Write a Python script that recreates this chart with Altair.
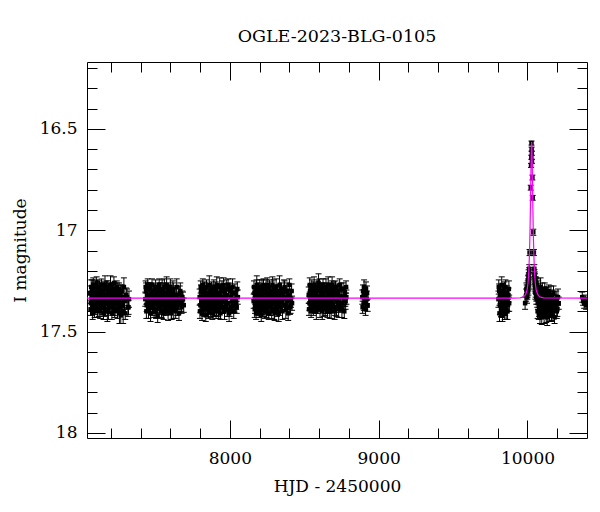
import altair as alt
import pandas as pd

# ---------------- data ----------------
t1 = [7062, 7066, 7071, 7075, 7080, 7085, 7089, 7094, 7098, 7103, 7108, 7112, 7117, 7121, 7126, 7131, 7135,
      7140, 7145, 7149, 7154, 7158, 7163, 7168, 7172, 7177, 7182, 7186, 7191, 7196, 7200, 7205, 7210, 7214,
      7219, 7224, 7228, 7233, 7238, 7243, 7248, 7253, 7258, 7264, 7270, 7276, 7283, 7292, 7303, 7315, 7322,
      7064, 7068, 7073, 7078, 7082, 7087, 7091, 7096, 7101, 7105, 7110, 7115, 7119, 7124, 7128, 7133, 7138,
      7142, 7147, 7151, 7156, 7161, 7165, 7170, 7175, 7179, 7184, 7189, 7193, 7198, 7203, 7207, 7212, 7217,
      7221, 7226, 7231, 7236, 7240, 7245, 7250, 7255, 7261, 7267, 7273, 7280, 7288, 7297, 7309, 7319]
m1 = [17.31, 17.36, 17.33, 17.29, 17.37, 17.34, 17.30, 17.38, 17.33, 17.35, 17.28, 17.36, 17.32, 17.39, 17.34,
      17.30, 17.37, 17.33, 17.35, 17.31, 17.38, 17.29, 17.34, 17.36, 17.32, 17.40, 17.33, 17.30, 17.37, 17.35,
      17.31, 17.34, 17.38, 17.29, 17.36, 17.33, 17.39, 17.32, 17.35, 17.30, 17.37, 17.34, 17.41, 17.31, 17.36,
      17.33, 17.40, 17.35, 17.32, 17.38, 17.34,
      17.39, 17.28, 17.35, 17.41, 17.27, 17.32, 17.40, 17.29, 17.37, 17.26, 17.39, 17.31, 17.36, 17.28, 17.40,
      17.33, 17.27, 17.38, 17.30, 17.41, 17.35, 17.27, 17.39, 17.29, 17.36, 17.28, 17.40, 17.32, 17.38, 17.27,
      17.35, 17.41, 17.30, 17.37, 17.26, 17.39, 17.31, 17.36, 17.28, 17.40, 17.33, 17.29, 17.38, 17.42, 17.30,
      17.37, 17.28, 17.41, 17.33, 17.38]
e1 = [0.035, 0.04, 0.03, 0.045, 0.035, 0.03, 0.04, 0.035, 0.05, 0.03, 0.035, 0.04, 0.03, 0.035, 0.045, 0.04,
      0.03, 0.035, 0.04, 0.03, 0.045, 0.035, 0.03, 0.04, 0.035, 0.05, 0.03, 0.04, 0.035, 0.03, 0.045, 0.035,
      0.04, 0.03, 0.035, 0.04, 0.03, 0.045, 0.035, 0.04, 0.03, 0.035, 0.05, 0.04, 0.035, 0.03, 0.06, 0.04,
      0.035, 0.045, 0.04,
      0.03, 0.035, 0.04, 0.03, 0.035, 0.045, 0.03, 0.04, 0.035, 0.03, 0.04, 0.035, 0.045, 0.03, 0.035, 0.04,
      0.03, 0.035, 0.04, 0.03, 0.035, 0.045, 0.03, 0.04, 0.035, 0.03, 0.04, 0.035, 0.03, 0.045, 0.035, 0.03,
      0.04, 0.035, 0.03, 0.04, 0.035, 0.045, 0.03, 0.035, 0.04, 0.03, 0.035, 0.04, 0.03, 0.035, 0.045, 0.03,
      0.04, 0.035]

t2 = [7432, 7437, 7441, 7446, 7451, 7456, 7460, 7465, 7470, 7475, 7480, 7484, 7489, 7494, 7499, 7504, 7508,
      7513, 7518, 7523, 7528, 7533, 7538, 7543, 7548, 7553, 7558, 7563, 7568, 7573, 7578, 7583, 7588, 7593,
      7598, 7603, 7609, 7614, 7620, 7626, 7632, 7639, 7646, 7654, 7663, 7672, 7681, 7690,
      7434, 7439, 7444, 7448, 7453, 7458, 7463, 7467, 7472, 7477, 7482, 7487, 7491, 7496, 7501, 7506, 7511,
      7515, 7520, 7525, 7530, 7535, 7540, 7545, 7550, 7555, 7560, 7565, 7570, 7575, 7580, 7585, 7590, 7595,
      7600, 7606, 7611, 7617, 7623, 7629, 7636, 7643, 7650, 7658, 7667, 7676, 7685]
m2 = [17.34, 17.30, 17.37, 17.33, 17.36, 17.29, 17.35, 17.32, 17.38, 17.31, 17.34, 17.37, 17.30, 17.35, 17.33,
      17.39, 17.31, 17.36, 17.34, 17.29, 17.37, 17.32, 17.35, 17.40, 17.33, 17.30, 17.36, 17.34, 17.38, 17.31,
      17.35, 17.29, 17.37, 17.33, 17.36, 17.32, 17.39, 17.34, 17.30, 17.37, 17.35, 17.32, 17.38, 17.34, 17.31,
      17.36, 17.33, 17.37,
      17.28, 17.40, 17.32, 17.27, 17.39, 17.35, 17.29, 17.41, 17.33, 17.27, 17.38, 17.30, 17.40, 17.36, 17.28,
      17.39, 17.31, 17.42, 17.34, 17.27, 17.38, 17.30, 17.40, 17.29, 17.37, 17.41, 17.28, 17.35, 17.39, 17.27,
      17.33, 17.40, 17.30, 17.38, 17.28, 17.41, 17.34, 17.29, 17.39, 17.32, 17.40, 17.28, 17.36, 17.41, 17.30,
      17.38, 17.34]
e2 = [0.035, 0.04, 0.03, 0.035, 0.045, 0.03, 0.04, 0.035, 0.03, 0.05, 0.035, 0.04, 0.03, 0.035, 0.04, 0.045,
      0.03, 0.035, 0.04, 0.03, 0.035, 0.05, 0.04, 0.035, 0.03, 0.04, 0.045, 0.035, 0.03, 0.04, 0.035, 0.03,
      0.045, 0.04, 0.035, 0.03, 0.05, 0.035, 0.04, 0.03, 0.035, 0.045, 0.04, 0.03, 0.035, 0.04, 0.03, 0.035,
      0.03, 0.035, 0.04, 0.03, 0.045, 0.035, 0.03, 0.04, 0.035, 0.03, 0.04, 0.035, 0.03, 0.045, 0.035, 0.04,
      0.03, 0.035, 0.04, 0.03, 0.035, 0.04, 0.03, 0.045, 0.035, 0.03, 0.04, 0.035, 0.03, 0.04, 0.035, 0.045,
      0.03, 0.035, 0.04, 0.03, 0.035, 0.04, 0.045, 0.03, 0.035, 0.04, 0.03, 0.035, 0.04, 0.03, 0.035, 0.04]

t3 = [7797, 7802, 7806, 7811, 7816, 7821, 7826, 7830, 7835, 7840, 7845, 7850, 7855, 7860, 7865, 7870, 7875,
      7880, 7885, 7890, 7895, 7900, 7905, 7910, 7915, 7920, 7925, 7930, 7935, 7940, 7945, 7950, 7956, 7961,
      7967, 7973, 7979, 7985, 7992, 7999, 8006, 8014, 8022, 8030, 8038, 8046, 8053,
      7799, 7804, 7809, 7813, 7818, 7823, 7828, 7833, 7838, 7843, 7848, 7852, 7857, 7862, 7867, 7872, 7877,
      7882, 7887, 7892, 7897, 7902, 7907, 7912, 7917, 7922, 7927, 7932, 7937, 7942, 7947, 7953, 7958, 7964,
      7970, 7976, 7982, 7988, 7995, 8002, 8010, 8018, 8026, 8034, 8042, 8050]
m3 = [17.33, 17.37, 17.30, 17.35, 17.32, 17.38, 17.34, 17.29, 17.36, 17.33, 17.31, 17.39, 17.35, 17.32, 17.37,
      17.30, 17.34, 17.36, 17.31, 17.38, 17.33, 17.35, 17.29, 17.37, 17.34, 17.32, 17.40, 17.35, 17.31, 17.36,
      17.33, 17.38, 17.30, 17.35, 17.34, 17.37, 17.32, 17.36, 17.29, 17.39, 17.33, 17.35, 17.31, 17.37, 17.34,
      17.38, 17.33,
      17.40, 17.28, 17.36, 17.41, 17.27, 17.33, 17.39, 17.30, 17.42, 17.28, 17.37, 17.31, 17.40, 17.27, 17.35,
      17.39, 17.29, 17.41, 17.33, 17.28, 17.38, 17.30, 17.40, 17.27, 17.36, 17.39, 17.31, 17.28, 17.41, 17.34,
      17.29, 17.38, 17.27, 17.40, 17.32, 17.29, 17.39, 17.27, 17.41, 17.30, 17.38, 17.28, 17.40, 17.31, 17.36,
      17.29]
e3 = [0.04, 0.035, 0.03, 0.045, 0.035, 0.04, 0.03, 0.035, 0.05, 0.04, 0.03, 0.035, 0.04, 0.03, 0.045, 0.035,
      0.04, 0.03, 0.035, 0.045, 0.03, 0.04, 0.035, 0.05, 0.03, 0.04, 0.035, 0.03, 0.045, 0.035, 0.04, 0.03,
      0.035, 0.04, 0.045, 0.03, 0.035, 0.04, 0.03, 0.035, 0.045, 0.04, 0.03, 0.035, 0.04, 0.03, 0.035,
      0.035, 0.03, 0.04, 0.035, 0.03, 0.045, 0.035, 0.04, 0.03, 0.035, 0.04, 0.03, 0.035, 0.045, 0.03, 0.04,
      0.035, 0.03, 0.04, 0.035, 0.045, 0.03, 0.035, 0.04, 0.03, 0.035, 0.04, 0.045, 0.03, 0.035, 0.04, 0.03,
      0.035, 0.04, 0.03, 0.045, 0.035, 0.03, 0.04, 0.035, 0.03, 0.04, 0.035, 0.045, 0.03, 0.035, 0.04, 0.03]

t4 = [8160, 8165, 8169, 8174, 8179, 8184, 8189, 8193, 8198, 8203, 8208, 8213, 8218, 8223, 8228, 8233, 8238,
      8243, 8248, 8253, 8258, 8263, 8268, 8273, 8278, 8283, 8288, 8293, 8298, 8303, 8308, 8314, 8319, 8325,
      8331, 8337, 8343, 8350, 8357, 8364, 8372, 8380, 8388, 8396, 8404, 8411, 8418,
      8162, 8167, 8172, 8176, 8181, 8186, 8191, 8196, 8201, 8206, 8211, 8216, 8221, 8226, 8231, 8236, 8241,
      8246, 8251, 8256, 8261, 8266, 8271, 8276, 8281, 8286, 8291, 8296, 8301, 8306, 8311, 8317, 8322, 8328,
      8334, 8340, 8347, 8354, 8361, 8368, 8376, 8384, 8392, 8400, 8408, 8415]
m4 = [17.35, 17.31, 17.37, 17.33, 17.29, 17.36, 17.34, 17.38, 17.32, 17.35, 17.30, 17.37, 17.33, 17.39, 17.31,
      17.36, 17.34, 17.28, 17.35, 17.37, 17.32, 17.34, 17.30, 17.38, 17.35, 17.33, 17.36, 17.31, 17.39, 17.34,
      17.32, 17.37, 17.30, 17.35, 17.33, 17.38, 17.31, 17.36, 17.34, 17.29, 17.37, 17.33, 17.35, 17.32, 17.38,
      17.34, 17.36,
      17.28, 17.39, 17.33, 17.41, 17.27, 17.37, 17.30, 17.40, 17.28, 17.36, 17.42, 17.29, 17.38, 17.27, 17.34,
      17.40, 17.30, 17.39, 17.27, 17.35, 17.41, 17.28, 17.38, 17.31, 17.40, 17.27, 17.36, 17.29, 17.41, 17.33,
      17.28, 17.39, 17.30, 17.41, 17.27, 17.37, 17.29, 17.40, 17.32, 17.28, 17.39, 17.30, 17.41, 17.27, 17.37,
      17.30]
e4 = [0.035, 0.03, 0.04, 0.035, 0.045, 0.03, 0.035, 0.04, 0.03, 0.05, 0.035, 0.04, 0.03, 0.035, 0.04, 0.03,
      0.045, 0.035, 0.03, 0.04, 0.035, 0.03, 0.045, 0.04, 0.035, 0.03, 0.04, 0.035, 0.05, 0.03, 0.04, 0.035,
      0.03, 0.045, 0.035, 0.04, 0.03, 0.035, 0.04, 0.045, 0.03, 0.035, 0.04, 0.03, 0.035, 0.04, 0.035,
      0.03, 0.04, 0.035, 0.03, 0.045, 0.035, 0.04, 0.03, 0.035, 0.04, 0.03, 0.045, 0.035, 0.03, 0.04, 0.035,
      0.03, 0.04, 0.035, 0.045, 0.03, 0.035, 0.04, 0.03, 0.035, 0.04, 0.03, 0.045, 0.035, 0.03, 0.04, 0.035,
      0.03, 0.04, 0.045, 0.035, 0.03, 0.04, 0.035, 0.03, 0.045, 0.04, 0.035, 0.03, 0.04, 0.035, 0.03, 0.04]

t5 = [8530, 8535, 8539, 8544, 8549, 8554, 8559, 8563, 8568, 8573, 8578, 8583, 8588, 8593, 8598, 8603, 8608,
      8613, 8618, 8623, 8628, 8633, 8638, 8643, 8648, 8653, 8658, 8663, 8668, 8673, 8678, 8684, 8689, 8695,
      8701, 8707, 8713, 8720, 8727, 8734, 8741, 8749, 8757, 8765, 8773, 8778, 8783,
      8532, 8537, 8542, 8546, 8551, 8556, 8561, 8566, 8571, 8576, 8581, 8586, 8591, 8596, 8601, 8606, 8611,
      8616, 8621, 8626, 8631, 8636, 8641, 8646, 8651, 8656, 8661, 8666, 8671, 8676, 8681, 8687, 8692, 8698,
      8704, 8710, 8717, 8724, 8731, 8738, 8745, 8753, 8761, 8769, 8776, 8781]
m5 = [17.32, 17.36, 17.30, 17.34, 17.37, 17.31, 17.35, 17.29, 17.33, 17.38, 17.32, 17.35, 17.30, 17.36, 17.33,
      17.28, 17.37, 17.34, 17.31, 17.35, 17.29, 17.36, 17.33, 17.38, 17.30, 17.34, 17.32, 17.37, 17.31, 17.35,
      17.33, 17.29, 17.36, 17.34, 17.30, 17.38, 17.32, 17.35, 17.31, 17.37, 17.33, 17.29, 17.36, 17.34, 17.31,
      17.35, 17.33,
      17.39, 17.27, 17.35, 17.40, 17.28, 17.33, 17.39, 17.27, 17.37, 17.30, 17.40, 17.28, 17.38, 17.26, 17.36,
      17.39, 17.29, 17.32, 17.40, 17.27, 17.38, 17.30, 17.39, 17.28, 17.36, 17.40, 17.27, 17.34, 17.39, 17.29,
      17.40, 17.27, 17.37, 17.31, 17.40, 17.28, 17.38, 17.30, 17.39, 17.27, 17.36, 17.39, 17.29, 17.40, 17.33,
      17.28]
e5 = [0.04, 0.035, 0.03, 0.04, 0.035, 0.045, 0.03, 0.035, 0.04, 0.03, 0.035, 0.045, 0.04, 0.03, 0.035, 0.04,
      0.03, 0.05, 0.035, 0.04, 0.03, 0.035, 0.045, 0.03, 0.04, 0.035, 0.03, 0.04, 0.045, 0.035, 0.03, 0.04,
      0.035, 0.03, 0.045, 0.04, 0.035, 0.03, 0.04, 0.035, 0.045, 0.03, 0.04, 0.035, 0.03, 0.04, 0.035,
      0.03, 0.035, 0.04, 0.03, 0.035, 0.045, 0.03, 0.04, 0.035, 0.03, 0.04, 0.035, 0.03, 0.045, 0.035, 0.04,
      0.03, 0.035, 0.04, 0.03, 0.045, 0.035, 0.03, 0.04, 0.035, 0.03, 0.04, 0.035, 0.045, 0.03, 0.035, 0.04,
      0.03, 0.035, 0.04, 0.03, 0.045, 0.035, 0.04, 0.03, 0.035, 0.04, 0.03, 0.035, 0.045, 0.03, 0.04, 0.035]

t6 = [8890, 8895, 8900, 8905, 8910, 8915, 8920, 8926, 8892, 8902, 8912, 8922]
m6 = [17.33, 17.30, 17.36, 17.32, 17.35, 17.29, 17.34, 17.37, 17.38, 17.28, 17.39, 17.31]
e6 = [0.035, 0.03, 0.035, 0.04, 0.03, 0.035, 0.04, 0.03, 0.03, 0.035, 0.03, 0.035]

t7 = [9805, 9810, 9815, 9820, 9825, 9830, 9835, 9840, 9845, 9850, 9855, 9860, 9866, 9872, 9877,
      9807, 9812, 9817, 9822, 9827, 9832, 9837, 9842, 9847, 9852, 9857, 9863, 9869, 9875]
m7 = [17.34, 17.30, 17.37, 17.33, 17.39, 17.31, 17.35, 17.36, 17.29, 17.38, 17.33, 17.35, 17.40, 17.32, 17.36,
      17.28, 17.41, 17.31, 17.39, 17.27, 17.42, 17.30, 17.38, 17.41, 17.28, 17.40, 17.31, 17.37, 17.29]
e7 = [0.04, 0.035, 0.045, 0.03, 0.04, 0.035, 0.05, 0.04, 0.035, 0.04, 0.045, 0.035, 0.04, 0.035, 0.04,
      0.035, 0.04, 0.03, 0.035, 0.04, 0.03, 0.035, 0.04, 0.03, 0.035, 0.04, 0.035, 0.03, 0.04]

t8 = [9984, 9991, 9995, 9999, 10002, 10005, 10007, 10009, 10011, 10014, 10022, 10024, 10026, 10027, 10028,
      10029, 10030, 10033, 10035, 10039, 10043, 10046, 10048, 10050, 10052, 10055, 10058, 10060,
      9993, 9997, 10001, 10004, 10006, 10008, 10010, 10012, 10047, 10049, 10051, 10053, 10056, 10059]
m8 = [17.36, 17.32, 17.30, 17.31, 17.28, 17.27, 17.25, 17.24, 17.21, 17.11, 16.79, 16.68, 16.64, 16.57, 16.60,
      16.62, 16.66, 16.74, 16.84, 17.01, 17.11, 17.19, 17.23, 17.26, 17.28, 17.30, 17.27, 17.32,
      17.29, 17.33, 17.30, 17.25, 17.29, 17.22, 17.26, 17.19, 17.22, 17.27, 17.24, 17.31, 17.26, 17.33]
e8 = [0.03, 0.03, 0.03, 0.03, 0.03, 0.03, 0.03, 0.03, 0.025, 0.015, 0.012, 0.01, 0.01, 0.01, 0.01,
      0.01, 0.01, 0.012, 0.012, 0.015, 0.015, 0.02, 0.025, 0.03, 0.03, 0.03, 0.035, 0.03,
      0.03, 0.03, 0.03, 0.025, 0.03, 0.025, 0.03, 0.02, 0.025, 0.03, 0.025, 0.03, 0.03, 0.035]

t9 = [10062, 10066, 10070, 10074, 10078, 10082, 10086, 10090, 10094, 10098, 10102, 10106, 10110, 10114, 10118,
      10122, 10126, 10130, 10135, 10140, 10145, 10150, 10155, 10160, 10166, 10172, 10178, 10185, 10193, 10201,
      10210,
      10064, 10068, 10072, 10076, 10080, 10084, 10088, 10092, 10096, 10100, 10104, 10108, 10112, 10116, 10120,
      10124, 10128, 10133, 10138, 10143, 10148, 10153, 10158, 10163, 10169, 10175, 10182, 10189, 10197, 10205]
m9 = [17.31, 17.34, 17.36, 17.30, 17.38, 17.33, 17.35, 17.40, 17.32, 17.37, 17.34, 17.39, 17.31, 17.36, 17.38,
      17.33, 17.41, 17.35, 17.32, 17.37, 17.39, 17.34, 17.36, 17.40, 17.33, 17.38, 17.35, 17.37, 17.34, 17.39,
      17.36,
      17.27, 17.40, 17.29, 17.41, 17.31, 17.42, 17.28, 17.37, 17.43, 17.30, 17.40, 17.33, 17.42, 17.29, 17.39,
      17.36, 17.31, 17.43, 17.38, 17.30, 17.41, 17.37, 17.32, 17.42, 17.39, 17.31, 17.43, 17.36, 17.40, 17.33]
e9 = [0.035, 0.04, 0.03, 0.035, 0.045, 0.03, 0.04, 0.035, 0.03, 0.045, 0.035, 0.04, 0.03, 0.035, 0.04, 0.03,
      0.045, 0.035, 0.04, 0.03, 0.035, 0.04, 0.03, 0.045, 0.035, 0.04, 0.03, 0.035, 0.04, 0.035, 0.03,
      0.03, 0.035, 0.04, 0.03, 0.035, 0.04, 0.045, 0.03, 0.035, 0.04, 0.03, 0.035, 0.04, 0.03, 0.045,
      0.035, 0.03, 0.04, 0.035, 0.03, 0.04, 0.035, 0.045, 0.03, 0.04, 0.035, 0.03, 0.04, 0.035, 0.04]

t10 = [10368, 10374, 10381, 10388, 10394, 10399]
m10 = [17.33, 17.35, 17.36, 17.34, 17.37, 17.35]
e10 = [0.025, 0.02, 0.025, 0.02, 0.02, 0.02]

# fitted model curve
model_t = [7040, 9900, 9950, 9973, 9988, 9998, 10003, 10008, 10013, 10016, 10018, 10020, 10022, 10024, 10026,
           10028, 10030, 10032, 10034, 10036, 10038, 10040, 10043, 10048, 10053, 10058, 10068, 10083, 10108, 10400]
model_m = [17.335, 17.335, 17.334, 17.329, 17.317, 17.292, 17.264, 17.215, 17.126, 17.040, 16.965, 16.876,
           16.777, 16.675, 16.596, 16.565, 16.596, 16.675, 16.777, 16.876, 16.965, 17.040, 17.126, 17.215,
           17.264, 17.292, 17.317, 17.329, 17.334, 17.335]

x_major = [8000, 9000, 10000]
x_minor = [7200, 7400, 7600, 7800, 8200, 8400, 8600, 8800, 9200, 9400, 9600, 9800, 10200]
y_major = [16.5, 17, 17.5, 18]
y_minor = [16.2, 16.3, 16.4, 16.6, 16.7, 16.8, 16.9, 17.1, 17.2, 17.3, 17.4, 17.6, 17.7, 17.8, 17.9]

# ---------------- build tables ----------------
rows = []
for ts, ms, es in [(t1, m1, e1), (t2, m2, e2), (t3, m3, e3), (t4, m4, e4), (t5, m5, e5),
                   (t6, m6, e6), (t7, m7, e7), (t8, m8, e8), (t9, m9, e9), (t10, m10, e10)]:
    for a, b, c in zip(ts, ms, es):
        rows.append({"hjd": a, "mag": b, "lo": b - c, "hi": b + c})
df = pd.DataFrame(rows)
model = pd.DataFrame({"hjd": model_t, "mag": model_m})

FONT = "DejaVu Serif"
xs = alt.Scale(domain=[7040, 10400], nice=False, zero=False)
ys = alt.Scale(domain=[16.17, 18.025], nice=False, zero=False, reverse=True)
MAJ, MIN = 18, 10


def axis(orient, values, size, **kw):
    return alt.Axis(orient=orient, values=values, tickSize=size, offset=-size, domain=False, grid=False,
                    tickColor="black", tickWidth=1, **kw)


def minor_axis(orient, values, size):
    return axis(orient, values, size, labels=False, title=None)


x_bottom = axis("bottom", x_major, MAJ, labels=True, format="d", labelFont=FONT, labelFontSize=17,
                labelColor="black", labelPadding=12, title="HJD - 2450000", titleFont=FONT, titleFontSize=17,
                titleFontWeight="normal", titleColor="black", titlePadding=12)
y_left = axis("left", y_major, MAJ, labels=True, labelExpr="datum.value + ''", labelFont=FONT,
              labelFontSize=17, labelColor="black", labelPadding=10, title="I magnitude", titleFont=FONT,
              titleFontSize=17, titleFontWeight="normal", titleColor="black", titlePadding=10)

base = alt.Chart(df)

bars = base.mark_rule(color="black", strokeWidth=1, clip=True).encode(
    x=alt.X("hjd:Q", scale=xs, axis=x_bottom),
    y=alt.Y("lo:Q", scale=ys, axis=y_left),
    y2="hi:Q",
)
caps_hi = base.mark_tick(orient="horizontal", size=6, thickness=1, color="black", opacity=1, clip=True).encode(
    x=alt.X("hjd:Q", scale=xs, axis=minor_axis("bottom", x_minor, MIN)),
    y=alt.Y("hi:Q", scale=ys, axis=minor_axis("left", y_minor, MIN)),
)
caps_lo = base.mark_tick(orient="horizontal", size=6, thickness=1, color="black", opacity=1, clip=True).encode(
    x=alt.X("hjd:Q", scale=xs, axis=minor_axis("top", x_major, MAJ)),
    y=alt.Y("lo:Q", scale=ys, axis=minor_axis("right", y_major, MAJ)),
)
pts = base.mark_square(size=20, color="black", opacity=1, filled=True, clip=True).encode(
    x=alt.X("hjd:Q", scale=xs, axis=minor_axis("top", x_minor, MIN)),
    y=alt.Y("mag:Q", scale=ys, axis=minor_axis("right", y_minor, MIN)),
)
line = alt.Chart(model).mark_line(color="#ff00ff", strokeWidth=1.2, clip=True).encode(
    x=alt.X("hjd:Q", scale=xs, axis=None),
    y=alt.Y("mag:Q", scale=ys, axis=None),
)

chart = alt.layer(bars, caps_hi, caps_lo, pts, line).resolve_axis(
    x="independent", y="independent"
).properties(
    width=500,
    height=376,
    title=alt.TitleParams("OGLE-2023-BLG-0105", font=FONT, fontSize=17.5, fontWeight="normal",
                          color="black", anchor="middle", baseline="alphabetic", offset=2),
    padding={"left": 79, "top": 54, "right": 5, "bottom": 60},
    autosize=alt.AutoSizeParams(type="none"),
).configure_view(stroke="black", strokeWidth=1)

chart.save("out.html", embed_options={"renderer": "svg", "actions": False})
